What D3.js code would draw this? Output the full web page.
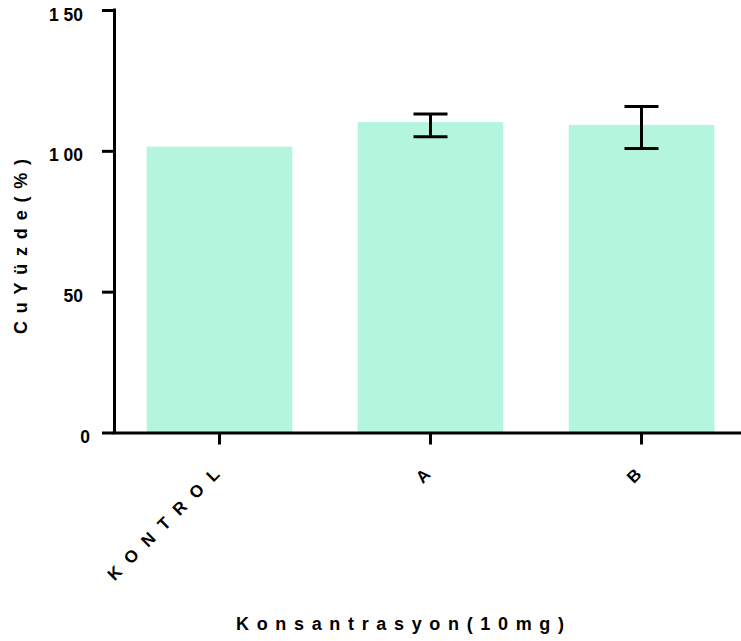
<!DOCTYPE html>
<html>
<head>
<meta charset="utf-8">
<script src="https://cdn.jsdelivr.net/npm/d3@7/dist/d3.min.js"></script>
<style>
  html, body { margin: 0; padding: 0; background: #fff; }
  svg { display: block; }
  text { font-family: "Liberation Sans", Arial, sans-serif; font-weight: bold; fill: #000; }
</style>
</head>
<body>
<svg id="chart" width="741" height="641"></svg>
<script>
// Groups, mean values and error-bar limits
const categories = ["KONTROL", "A", "B"];
const means = [101.5, 110.2, 109.2];
const errLow = [null, 105.0, 100.8];
const errHigh = [null, 113.1, 115.7];

// Y axis ticks and how their labels are printed
const yTicks = [0, 50, 100, 150];
const yTickLabels = ["0", "50", "1 00", "1 50"];

const yTitle = "CuYüzde(%)";
const xTitle = "Konsantrasyon(10mg)";

const svg = d3.select("#chart");

const x = d3.scaleBand()
  .domain(categories)
  .range([114, 747])
  .paddingInner(0.31)
  .paddingOuter(0.155);

const y = d3.scaleLinear()
  .domain([0, 150])
  .range([432.5, 10]);

// Bars
svg.append("g")
  .selectAll("rect")
  .data(categories)
  .join("rect")
  .attr("x", d => x(d))
  .attr("width", x.bandwidth())
  .attr("y", (d, i) => y(means[i]))
  .attr("height", (d, i) => y(0) - y(means[i]))
  .attr("fill", "#b3f5dd");

// Error bars
const eb = svg.append("g")
  .attr("stroke", "#000")
  .attr("stroke-width", 3)
  .attr("fill", "none");
categories.forEach((c, i) => {
  if (errLow[i] == null) return;
  const cx = x(c) + x.bandwidth() / 2;
  const capHalf = 17;
  eb.append("line").attr("x1", cx).attr("x2", cx).attr("y1", y(errHigh[i])).attr("y2", y(errLow[i]));
  eb.append("line").attr("x1", cx - capHalf).attr("x2", cx + capHalf).attr("y1", y(errHigh[i])).attr("y2", y(errHigh[i]));
  eb.append("line").attr("x1", cx - capHalf).attr("x2", cx + capHalf).attr("y1", y(errLow[i])).attr("y2", y(errLow[i]));
});

// Y axis
const yAxis = d3.axisLeft(y)
  .tickValues(yTicks)
  .tickFormat((d, i) => yTickLabels[i])
  .tickSize(12)
  .tickSizeOuter(0)
  .tickPadding(12);
const gy = svg.append("g")
  .attr("transform", "translate(114,0)")
  .call(yAxis);
gy.select(".domain").attr("stroke", "#000").attr("stroke-width", 3)
  .attr("d", `M0.5,${y(150) - 1.5}V${y(0) + 1.5}`);
gy.selectAll(".tick line").attr("stroke", "#000").attr("stroke-width", 3);
gy.selectAll(".tick text")
  .attr("font-size", 17.5)
  .attr("dy", "0.58em")
  .attr("dx", (d, i) => yTickLabels[i].length > 1 ? -7 : 0)
  .style("font-family", "'Liberation Sans', Arial, sans-serif")
  .style("font-weight", "bold");

// X axis
const xAxis = d3.axisBottom(x)
  .tickSize(12)
  .tickSizeOuter(0)
  .tickFormat("");
const gx = svg.append("g")
  .attr("transform", `translate(0,${y(0)})`)
  .call(xAxis);
gx.select(".domain").attr("stroke", "#000").attr("stroke-width", 3)
  .attr("d", "M112.5,0.5H741");
gx.selectAll(".tick line").attr("stroke", "#000").attr("stroke-width", 3);

// Rotated category labels (dx cancels the trailing letter gap)
const catSpacing = 11;
svg.append("g")
  .selectAll("text")
  .data(categories)
  .join("text")
  .attr("transform", d => `translate(${x(d) + x.bandwidth() / 2 + 1},${y(0) + 43}) rotate(-45)`)
  .attr("text-anchor", "end")
  .attr("dx", catSpacing)
  .attr("font-size", 17)
  .attr("letter-spacing", catSpacing + "px")
  .text(d => d);

// Axis titles, spread out to a fixed length
svg.append("text")
  .attr("transform", "translate(27,246.5) rotate(-90)")
  .attr("text-anchor", "middle")
  .attr("font-size", 18)
  .attr("textLength", 175)
  .attr("lengthAdjust", "spacing")
  .text(yTitle);

svg.append("text")
  .attr("x", 400)
  .attr("y", 630)
  .attr("text-anchor", "middle")
  .attr("font-size", 18)
  .attr("textLength", 328)
  .attr("lengthAdjust", "spacing")
  .text(xTitle);
</script>
</body>
</html>
